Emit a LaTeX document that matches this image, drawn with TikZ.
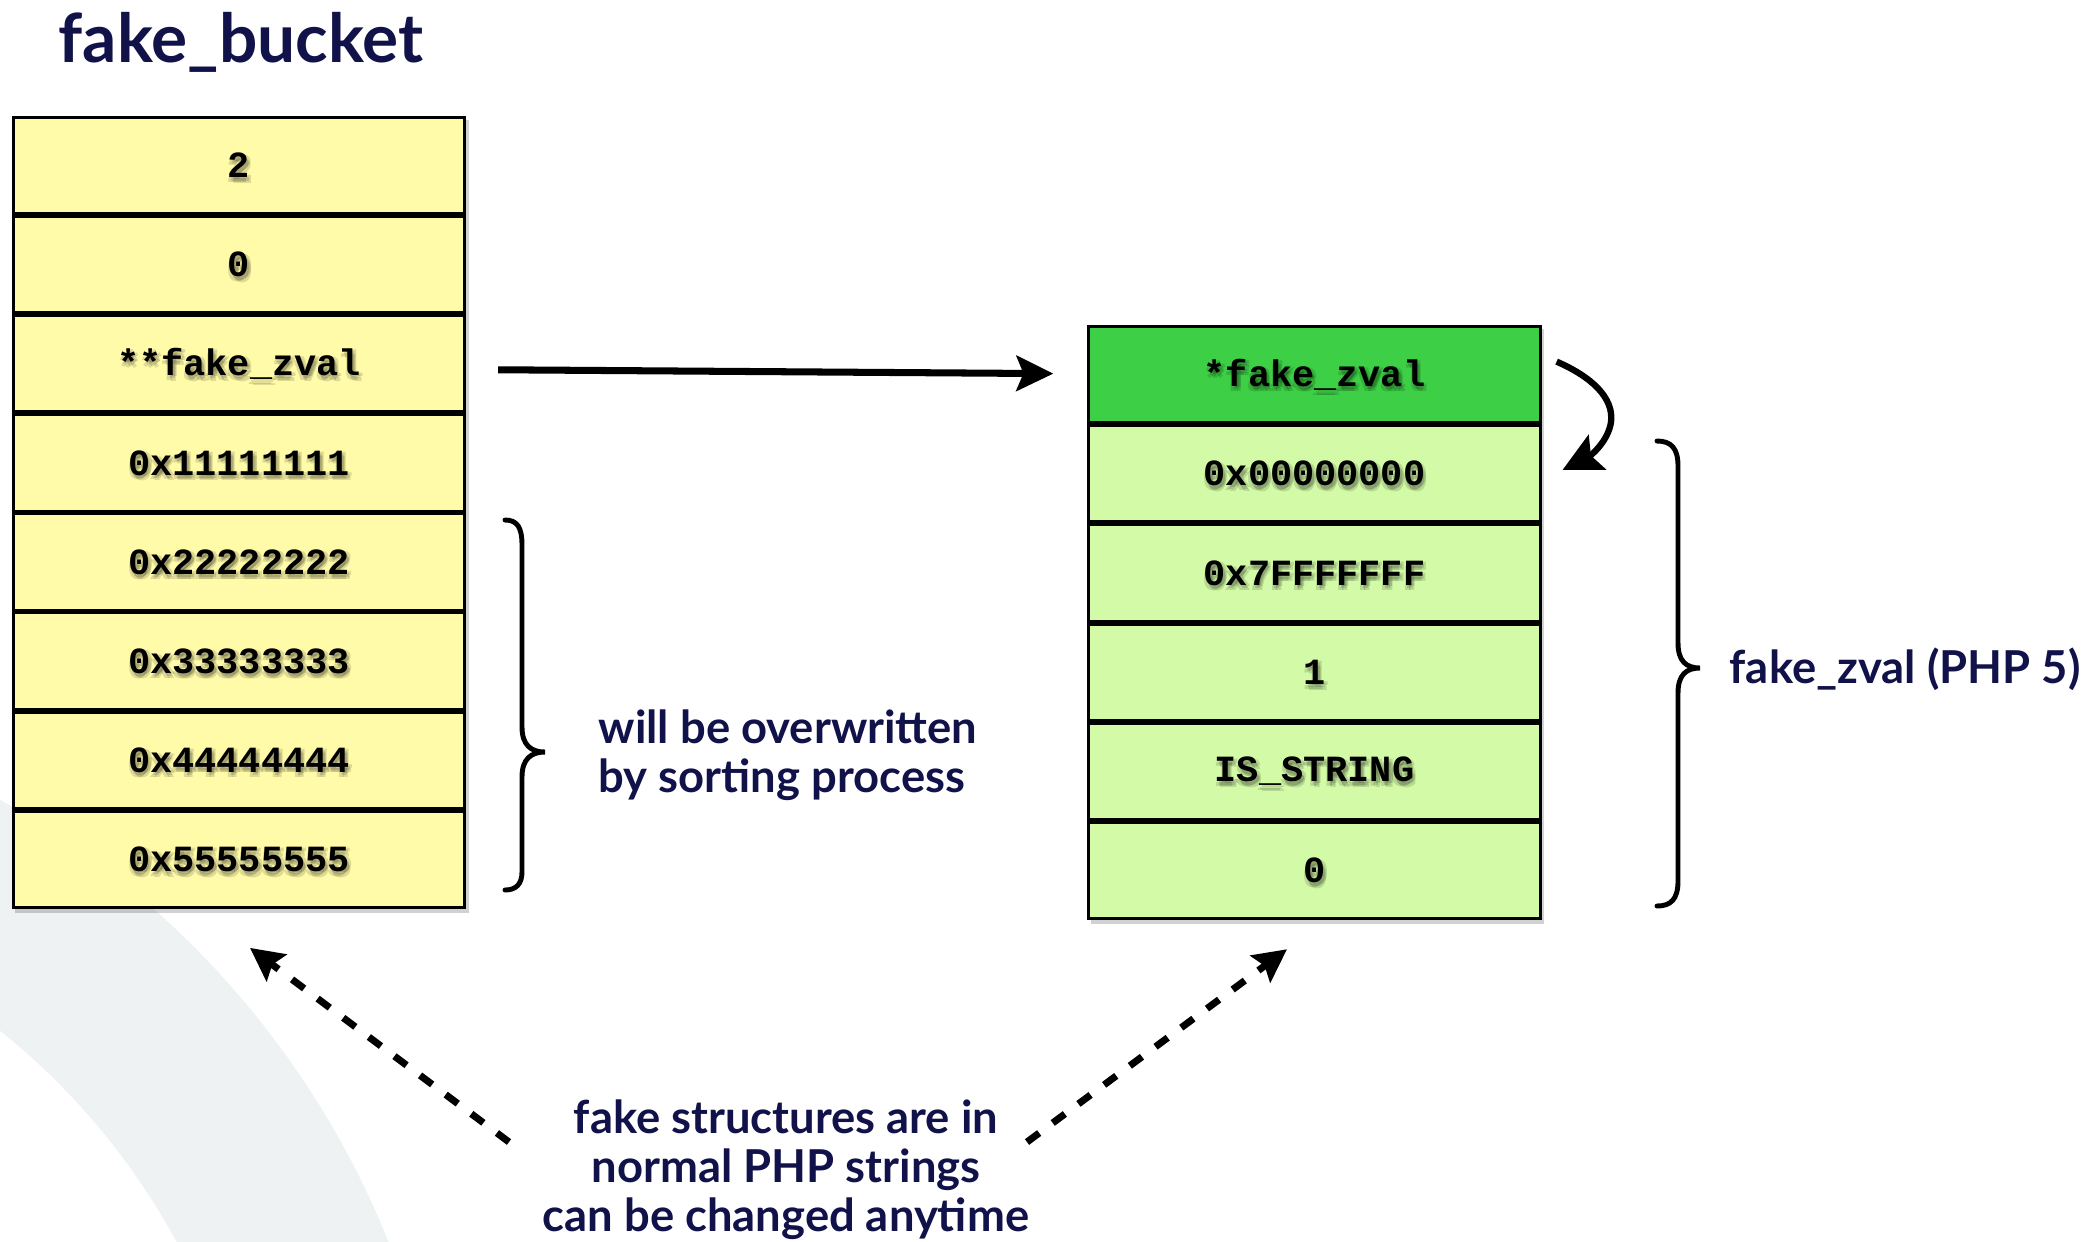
\documentclass[tikz,border=0pt]{standalone}
\usepackage{fontspec}
\setmainfont{Lato}
\newfontfamily\cellfont{Liberation Mono}
\usetikzlibrary{arrows.meta,calc}
\definecolor{navy}{HTML}{11124A}
\definecolor{cellyellow}{HTML}{FFFBA9}
\definecolor{zvalgreen}{HTML}{3DCF45}
\definecolor{zvallight}{HTML}{D3FBA7}
\definecolor{bandgray}{HTML}{EEF2F3}
\tikzset{
  cellfnt/.style={font=\cellfont\bfseries\fontsize{10.5}{12}\selectfont},
  cellbox/.style={draw=black, line width=0.85pt, minimum width=4.51cm,
    minimum height=0.962cm, inner sep=0pt, cellfnt, text=black},
  ycell/.style={cellbox, fill=cellyellow},
  gcell/.style={cellbox, fill=zvallight},
  hcell/.style={cellbox, fill=zvalgreen},
  shd/.style={cellfnt, text=black, text opacity=0.13, inner sep=0pt},
  tableshadow/.style={fill=black, opacity=0.18},
  bodytext/.style={text=navy, inner sep=0pt,
    font=\bfseries\fontsize{12.9}{14}\selectfont},
  titletext/.style={text=navy, inner sep=0pt,
    font=\bfseries\fontsize{19.2}{22}\selectfont},
  bracepath/.style={draw=black, line width=1.4pt, line cap=round},
  bigarrow/.style={draw=black, line width=2pt,
    -{Stealth[length=10.5pt,width=10pt,inset=2pt]}},
  curvarrow/.style={draw=black, line width=1.8pt,
    -{Stealth[length=11pt,width=11pt,inset=2pt]}},
  dasharrow/.style={draw=black, line width=2pt, dash pattern=on 4.3pt off 4.8pt,
    -{Stealth[length=9.4pt,width=9.4pt,inset=1.5pt]}}
}
\newcommand\cellnode[4]{%
  \node[#1,
    label={[shd,xshift=0.5pt,yshift=-1pt]center:#4},
    label={[shd,xshift=1.1pt,yshift=-0.4pt]center:#4},
    label={[shd,xshift=-0.3pt,yshift=-1.4pt]center:#4},
    label={[shd,xshift=0.9pt,yshift=-1.6pt]center:#4}] (#2) at #3 {#4};}
\begin{document}
\begin{tikzpicture}[x=0.01cm,y=-0.01cm]
\useasboundingbox (0,0) rectangle (2085,1241);
\fill[white] (0,0) rectangle (2085,1241);
% background band
\begin{scope}
  \clip (0,0) rectangle (2085,1241);
  \fill[bandgray, even odd rule] (-431,1570) circle (8.82cm) (-431,1570) circle (6.9cm);
\end{scope}

% title
\node[titletext, anchor=base west] (title) at (58,62) {fake\_bucket};

% soft shadows under the tables
\fill[tableshadow] (15,120) rectangle (469,913);
\fill[tableshadow] (1091,329) rectangle (1544,924);

% left table (fake_bucket)
\cellnode{ycell}{l1}{(239,165.55)}{2}
\cellnode{ycell}{l2}{(239,264.65)}{0}
\cellnode{ycell}{l3}{(239,363.75)}{**fake\_zval}
\cellnode{ycell}{l4}{(239,462.85)}{0x11111111}
\cellnode{ycell}{l5}{(239,561.95)}{0x22222222}
\cellnode{ycell}{l6}{(239,661.05)}{0x33333333}
\cellnode{ycell}{l7}{(239,760.15)}{0x44444444}
\cellnode{ycell}{l8}{(239,859.25)}{0x55555555}

% right table (fake_zval)
\cellnode{hcell}{r1}{(1314.5,374.6)}{*fake\_zval}
\cellnode{gcell}{r2}{(1314.5,473.8)}{0x00000000}
\cellnode{gcell}{r3}{(1314.5,573)}{0x7FFFFFFF}
\cellnode{gcell}{r4}{(1314.5,672.2)}{1}
\cellnode{gcell}{r5}{(1314.5,771.4)}{IS\_STRING}
\cellnode{gcell}{r6}{(1314.5,870.6)}{0}

% pointer arrow
\draw[bigarrow] ($(l3.east)+(32,6)$) -- ($(r1.west)+(-34,-1)$);

% self pointer
\coordinate (ca) at ($(r1.east)+(15,-13)$);
\coordinate (cb) at ($(r2.east)+(21,-4)$);
\draw[curvarrow] (ca) .. controls (1592,377) and (1614,398) .. (1611,422)
  .. controls (1608,442) and (1590,456) .. (cb);

% braces
\draw[bracepath] (505,520) .. controls (517,520) and (522,527) .. (522,545)
  -- (522,727) .. controls (522,745) and (531,752) .. (545,752)
  .. controls (531,752) and (522,759) .. (522,777)
  -- (522,872) .. controls (522,884) and (516,890) .. (505,890);
\draw[bracepath] (1657,441) .. controls (1671,441) and (1678,448) .. (1678,466)
  -- (1678,643) .. controls (1678,661) and (1686,668) .. (1700,668)
  .. controls (1686,668) and (1678,675) .. (1678,693)
  -- (1678,881) .. controls (1678,899) and (1671,906) .. (1657,906);

% labels
\node[bodytext, anchor=base west] (ow1) at (598,743) {will be overwritten};
\node[bodytext, anchor=base west] (ow2) at (598,792) {by sorting process};
\node[bodytext, anchor=base west] (fz) at (1729,683) {fake\_zval (PHP 5)};
\node[bodytext, anchor=base] (t1) at (786,1133) {fake structures are in};
\node[bodytext, anchor=base] (t2) at (786,1182) {normal PHP strings};
\node[bodytext, anchor=base] (t3) at (786,1231) {can be changed anytime};

% dashed arrows
\coordinate (dl) at (509,1142);
\coordinate (dr) at (1027,1142);
\draw[dasharrow] (dl) -- ($(l8.south)+(11,39)$);
\draw[dasharrow] (dr) -- ($(r6.south)+(-27.5,29)$);
\end{tikzpicture}
\end{document}
